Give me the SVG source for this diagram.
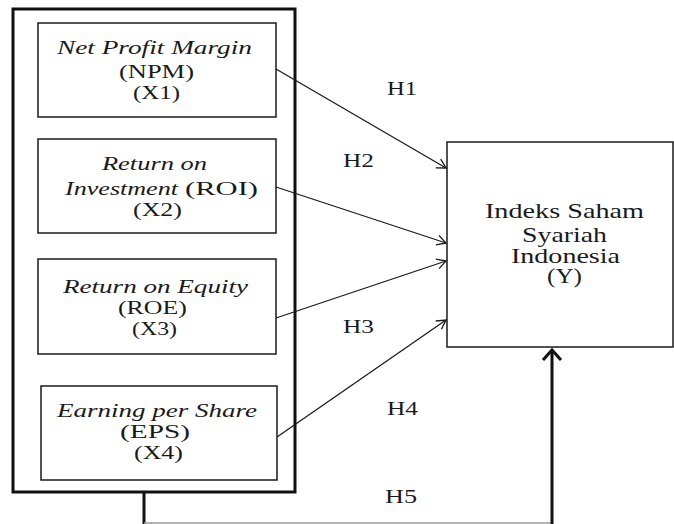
<svg xmlns="http://www.w3.org/2000/svg" width="674" height="524" viewBox="0 0 674 524">
<style>
text{font-family:"Liberation Serif","Times New Roman",serif;fill:#1a1a1a;font-size:18px}
.i{font-style:italic}
.big{font-size:20px}
.box{fill:#fff;stroke:#1a1a1a;stroke-width:1.5}
.conn{fill:none;stroke:#1a1a1a;stroke-width:1.3}
</style>
<defs>
<marker id="ah" markerUnits="userSpaceOnUse" markerWidth="14" markerHeight="14" refX="11" refY="7" orient="auto">
<path d="M2,2 L11,7 L2,12" fill="none" stroke="#1a1a1a" stroke-width="1.3"/>
</marker>
<marker id="ahb" markerUnits="userSpaceOnUse" markerWidth="16" markerHeight="22" refX="12" refY="11" orient="auto">
<path d="M2,2 L12,11 L2,20" fill="none" stroke="#111" stroke-width="3"/>
</marker>
</defs>
<rect width="674" height="524" fill="#fff"/>
<g id="group-x">
<rect x="13" y="9" width="282" height="483" fill="none" stroke="#111" stroke-width="3"/>
</g>
<g id="npm">
<rect class="box" x="38" y="23" width="238" height="94"/>
<g transform="scale(1.45 1)">
<text class="i" x="39.31" y="54" textLength="134.48" lengthAdjust="spacingAndGlyphs">Net Profit Margin</text>
<text x="82.07" y="78" textLength="51.72" lengthAdjust="spacingAndGlyphs">(NPM)</text>
<text x="91.72" y="99" textLength="32.41" lengthAdjust="spacingAndGlyphs">(X1)</text>
</g>
</g>
<g id="roi">
<rect class="box" x="38" y="139" width="238" height="94"/>
<g transform="scale(1.45 1)">
<text class="i" x="70.34" y="170" textLength="72.41" lengthAdjust="spacingAndGlyphs">Return on</text>
<text class="i" x="44.83" y="195" textLength="77.93" lengthAdjust="spacingAndGlyphs">Investment</text>
<text x="127.59" y="195" textLength="50.34" lengthAdjust="spacingAndGlyphs">(ROI)</text>
<text x="91.72" y="216" textLength="33.79" lengthAdjust="spacingAndGlyphs">(X2)</text>
</g>
</g>
<g id="roe">
<rect class="box" x="38" y="259" width="238" height="95"/>
<g transform="scale(1.45 1)">
<text class="i" x="43.45" y="293" textLength="127.59" lengthAdjust="spacingAndGlyphs">Return on Equity</text>
<text x="81.38" y="314" textLength="47.59" lengthAdjust="spacingAndGlyphs">(ROE)</text>
<text x="91.03" y="335" textLength="31.03" lengthAdjust="spacingAndGlyphs">(X3)</text>
</g>
</g>
<g id="eps">
<rect class="box" x="41" y="386" width="236" height="94"/>
<g transform="scale(1.45 1)">
<text class="i" x="39.31" y="417" textLength="137.93" lengthAdjust="spacingAndGlyphs">Earning per Share</text>
<text x="82.76" y="438" textLength="48.28" lengthAdjust="spacingAndGlyphs">(EPS)</text>
<text x="92.41" y="459" textLength="33.79" lengthAdjust="spacingAndGlyphs">(X4)</text>
</g>
</g>
<g id="issi">
<rect class="box" x="447" y="142" width="226" height="205"/>
<g transform="scale(1.45 1)">
<text class="big" x="334.48" y="218" textLength="109.66" lengthAdjust="spacingAndGlyphs">Indeks Saham</text>
<text class="big" x="360" y="242" textLength="58.62" lengthAdjust="spacingAndGlyphs">Syariah</text>
<text class="big" x="352.41" y="263" textLength="75.17" lengthAdjust="spacingAndGlyphs">Indonesia</text>
<text class="big" x="377.24" y="283" textLength="24.14" lengthAdjust="spacingAndGlyphs">(Y)</text>
</g>
</g>
<g id="connectors">
<line class="conn" x1="276" y1="69" x2="446" y2="168" marker-end="url(#ah)"/>
<line class="conn" x1="276" y1="187" x2="446" y2="243" marker-end="url(#ah)"/>
<line class="conn" x1="276" y1="318" x2="446" y2="261" marker-end="url(#ah)"/>
<line class="conn" x1="277" y1="437" x2="446" y2="320" marker-end="url(#ah)"/>
<polyline points="144,492 144,524" fill="none" stroke="#111" stroke-width="3"/>
<line x1="144" y1="523" x2="552" y2="523" stroke="#999" stroke-width="1.5"/>
<line x1="552" y1="524" x2="552" y2="350" stroke="#111" stroke-width="3" marker-end="url(#ahb)"/>
<g transform="scale(1.45 1)">
<text x="266.9" y="95" textLength="20.69" lengthAdjust="spacingAndGlyphs">H1</text>
<text x="236.55" y="167" textLength="21.38" lengthAdjust="spacingAndGlyphs">H2</text>
<text x="236.55" y="333" textLength="21.38" lengthAdjust="spacingAndGlyphs">H3</text>
<text x="266.9" y="415" textLength="21.38" lengthAdjust="spacingAndGlyphs">H4</text>
<text x="265.52" y="503" textLength="22.07" lengthAdjust="spacingAndGlyphs">H5</text>
</g>
</g>
</svg>
